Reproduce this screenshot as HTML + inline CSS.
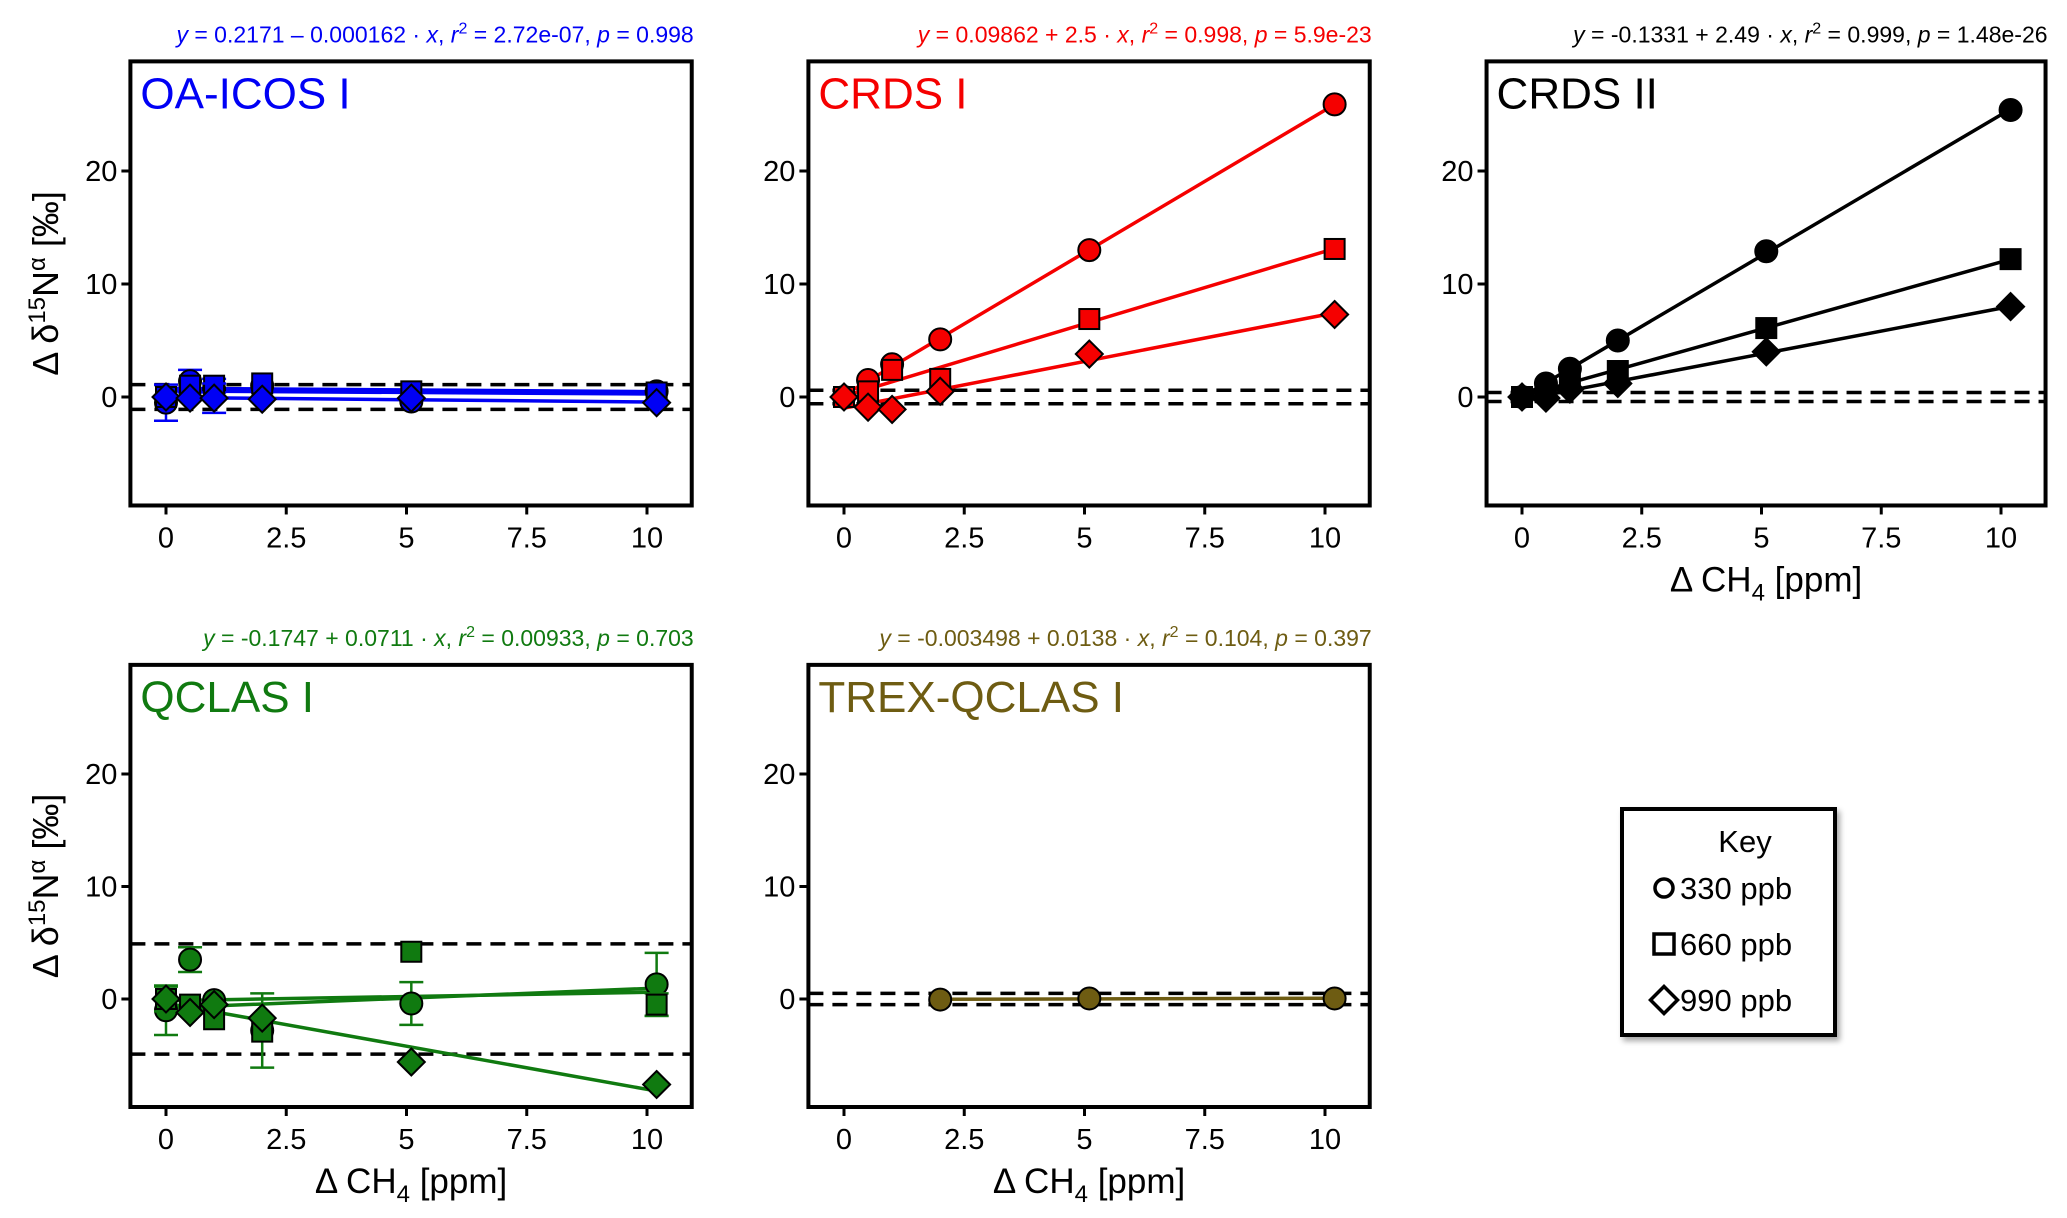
<!DOCTYPE html>
<html><head><meta charset="utf-8">
<style>
html,body{margin:0;padding:0;background:#fff;}
svg{display:block;font-family:"Liberation Sans",Arial,sans-serif;}
</style></head>
<body>
<svg id="fig" width="2067" height="1218" viewBox="0 0 2067 1218" xmlns="http://www.w3.org/2000/svg">
<defs>
<filter id="sh" x="-20%" y="-20%" width="140%" height="140%"><feDropShadow dx="3" dy="4" stdDeviation="3" flood-color="#000" flood-opacity="0.35"/></filter>
</defs>
</svg>
<script>
const xVals=[0,0.5,1,2,5.1,10.2];
const xTicks=[0,2.5,5,7.5,10];
const xTickLabels=['0','2.5','5','7.5','10'];
const yTicks=[0,10,20];
const yTickLabels=['0','10','20'];
const oaCircle=[-0.5,1.4,0.7,1.0,-0.4,0.5];
const oaSquare=[0,1.0,1.0,1.2,0.5,0.4];
const oaDiamond=[0,-0.1,-0.1,-0.2,-0.1,-0.5];
const oaCircleErr=[1.6,1.0,0,0,0,0];
const oaSquareErr=[0,0,0.6,0,0,0];
const oaDiamondErr=[0,0,1.3,0,0,0];
const crds1Circle=[0,1.5,2.9,5.1,13.0,25.9];
const crds1Square=[0,0.5,2.4,1.6,6.9,13.1];
const crds1Diamond=[0,-0.9,-1.1,0.5,3.8,7.3];
const crds2Circle=[0,1.2,2.5,5.0,12.9,25.4];
const crds2Square=[0,0.6,1.5,2.3,6.1,12.2];
const crds2Diamond=[0,-0.1,0.7,1.2,4.0,8.0];
const qcCircle=[-1.0,3.5,-0.1,-2.8,-0.4,1.3];
const qcSquare=[0,-0.5,-1.8,-2.9,4.2,-0.5];
const qcDiamond=[0,-1.2,-0.5,-1.7,-5.6,-7.6];
const qcCircleErr=[2.2,1.1,0,3.3,1.9,2.8];
const qcSquareErr=[0,0,0,0,0,1.0];
const qcDiamondErr=[1.1,0,0,0,0,0];
const trexX=[2,5.1,10.2];
const trexCircle=[-0.05,0.05,0.05];
const dashOA=[1.1,-1.1], dashC1=[0.6,-0.6], dashC2=[0.4,-0.4], dashQC=[4.9,-4.9], dashTR=[0.5,-0.5];

const NS='http://www.w3.org/2000/svg';
const svg=document.getElementById('fig');
function mk(tag,attrs,parent){const e=document.createElementNS(NS,tag);for(const k in attrs)e.setAttribute(k,attrs[k]);(parent||svg).appendChild(e);return e;}
function fit(xs,ys){const n=xs.length;let mx=0,my=0;for(let i=0;i<n;i++){mx+=xs[i];my+=ys[i];}mx/=n;my/=n;let sxy=0,sxx=0;for(let i=0;i<n;i++){sxy+=(xs[i]-mx)*(ys[i]-my);sxx+=(xs[i]-mx)**2;}const b=sxy/sxx;return [my-b*mx,b];}

function marker(g,shape,cx,cy,fill){
  let e;
  if(shape==='circle'){e=mk('circle',{cx:cx,cy:cy,r:11,fill:fill,stroke:'#000','stroke-width':2},g);}
  else if(shape==='square'){e=mk('rect',{x:cx-10,y:cy-10,width:20,height:20,fill:fill,stroke:'#000','stroke-width':2},g);}
  else {const d=13.5;e=mk('polygon',{points:`${cx},${cy-d} ${cx+d},${cy} ${cx},${cy+d} ${cx-d},${cy}`,fill:fill,stroke:'#000','stroke-width':2},g);}
  return e;
}

function panel(o){
  const g=mk('g',{});
  
  
  const sx=v=>o.x0+(v)*(o.x10-o.x0)/10;
  const sy=v=>o.y0-(v)*(o.y0-o.y20)/20;
  const L=sx(-0.74),R=sx(10.93),T=sy(29.7),B=sy(-9.6);
  o.dash.forEach(d=>{const l=mk('line',{x1:L,x2:R,y1:sy(d),y2:sy(d),stroke:'#000','stroke-width':3.5,'stroke-dasharray':'15,9'},g);
    
    });
  o.series.forEach(s=>{
    const f=fit(s.x,s.y);
    const xa=Math.min(...s.x),xb=Math.max(...s.x);
    const ln=mk('line',{x1:sx(xa),y1:sy(f[0]+f[1]*xa),x2:sx(xb),y2:sy(f[0]+f[1]*xb),stroke:o.color,'stroke-width':3.5},g);
    
    
  });
  o.series.forEach(s=>{
    s.x.forEach((xv,i)=>{
      const er=s.err?s.err[i]:0;
      if(er>0){const cx=sx(xv),t=sy(s.y[i]+er),b=sy(s.y[i]-er);
        const eb=mk('path',{d:`M${cx},${t}V${b}M${cx-12},${t}H${cx+12}M${cx-12},${b}H${cx+12}`,stroke:o.color,'stroke-width':2.5,fill:'none'},g);
        
        }
      const m=marker(g,s.shape,sx(xv),sy(s.y[i]),o.color);
      
      
    });
  });
  const box=mk('rect',{x:L,y:T,width:R-L,height:B-T,fill:'none',stroke:'#000','stroke-width':4},g);
  
  
  xTicks.forEach((t,i)=>{mk('line',{x1:sx(t),x2:sx(t),y1:B,y2:B+9,stroke:'#000','stroke-width':3},g);
    const tx=mk('text',{x:sx(t),y:B+42,'font-size':29,'text-anchor':'middle',fill:'#000'},g);tx.textContent=xTickLabels[i];
    
    });
  yTicks.forEach((t,i)=>{mk('line',{x1:L-9,x2:L,y1:sy(t),y2:sy(t),stroke:'#000','stroke-width':3},g);
    const tx=mk('text',{x:L-13,y:sy(t)+10,'font-size':29,'text-anchor':'end',fill:'#000'},g);tx.textContent=yTickLabels[i];
    
    });
  const lab=mk('text',{x:L+10,y:T+47,'font-size':44,fill:o.color},g);lab.textContent=o.label;
  
  
  const eq=mk('text',{x:R+2,y:T-19,'font-size':23,'text-anchor':'end',fill:o.color},g);
  
  
  eq.innerHTML=`<tspan font-style="italic">y</tspan> = ${o.eq[0]} · <tspan font-style="italic">x</tspan>,  <tspan font-style="italic">r</tspan><tspan dy="-9" font-size="16">2</tspan><tspan dy="9"> = ${o.eq[1]},  </tspan><tspan font-style="italic">p</tspan> = ${o.eq[2]}`;
  if(o.xtitle){const xt=mk('text',{x:(L+R)/2,y:B+86,'font-size':35,'text-anchor':'middle',fill:'#000'},g);
    xt.innerHTML='Δ CH<tspan dy="9" font-size="24">4</tspan><tspan dy="-9"> [ppm]</tspan>';
    
    }
  if(o.ytitle){const cy=(T+B)/2;const yt=mk('text',{x:0,y:0,'font-size':36,'text-anchor':'middle',fill:'#000',transform:`translate(58,${cy}) rotate(-90)`},g);
    yt.innerHTML='Δ δ<tspan dy="-13" font-size="24">15</tspan><tspan dy="13">N</tspan><tspan dy="-13" font-size="24">α</tspan><tspan dy="13"> [‰]</tspan>';
    
    }
}
const BLUE='#0000f5',RED='#f50000',BLK='#000',GRN='#107a10',OLV='#6e5c12';
panel({name:'panel-oa-icos',x0:166,x10:647,y0:397,y20:171,color:BLUE,label:'OA-ICOS I',dash:dashOA,ytitle:true,
 eq:['0.2171 – 0.000162','2.72e-07','0.998'],
 series:[{shape:'circle',x:xVals,y:oaCircle,err:oaCircleErr},{shape:'square',x:xVals,y:oaSquare,err:oaSquareErr},{shape:'diamond',x:xVals,y:oaDiamond,err:oaDiamondErr}]});
panel({name:'panel-crds-i',x0:844,x10:1325,y0:397,y20:171,color:RED,label:'CRDS I',dash:dashC1,
 eq:['0.09862 + 2.5','0.998','5.9e-23'],
 series:[{shape:'circle',x:xVals,y:crds1Circle},{shape:'square',x:xVals,y:crds1Square},{shape:'diamond',x:xVals,y:crds1Diamond}]});
panel({name:'panel-crds-ii',x0:1522,x10:2001,y0:397,y20:171,color:BLK,label:'CRDS II',dash:dashC2,xtitle:true,
 eq:['-0.1331 + 2.49','0.999','1.48e-26'],
 series:[{shape:'circle',x:xVals,y:crds2Circle},{shape:'square',x:xVals,y:crds2Square},{shape:'diamond',x:xVals,y:crds2Diamond}]});
panel({name:'panel-qclas',x0:166,x10:647,y0:999,y20:774,color:GRN,label:'QCLAS I',dash:dashQC,ytitle:true,xtitle:true,
 eq:['-0.1747 + 0.0711','0.00933','0.703'],
 series:[{shape:'circle',x:xVals,y:qcCircle,err:qcCircleErr},{shape:'square',x:xVals,y:qcSquare,err:qcSquareErr},{shape:'diamond',x:xVals,y:qcDiamond,err:qcDiamondErr}]});
panel({name:'panel-trex-qclas',x0:844,x10:1325,y0:999,y20:774,color:OLV,label:'TREX-QCLAS I',dash:dashTR,xtitle:true,
 eq:['-0.003498 + 0.0138','0.104','0.397'],
 series:[{shape:'circle',x:trexX,y:trexCircle}]});

const lg=mk('g',{});


mk('rect',{x:1622,y:809,width:213,height:226,fill:'#fff',stroke:'#000','stroke-width':4,filter:'url(#sh)'},lg);
const kt=mk('text',{x:1745,y:852,'font-size':31,'text-anchor':'middle'},lg);kt.textContent='Key';


const legendLabels=['330 ppb','660 ppb','990 ppb'];
const legendShapes=['circle','square','diamond'];
legendLabels.forEach((t,i)=>{const y=888+i*56;
  const m=marker(lg,legendShapes[i],1664,y,'#fff');m.setAttribute('stroke-width',3.5);
  if(legendShapes[i]==='circle')m.setAttribute('r',9);
  const tx=mk('text',{x:1680,y:y+11,'font-size':31},lg);tx.textContent=t;
  
  });
</script>
</body></html>
